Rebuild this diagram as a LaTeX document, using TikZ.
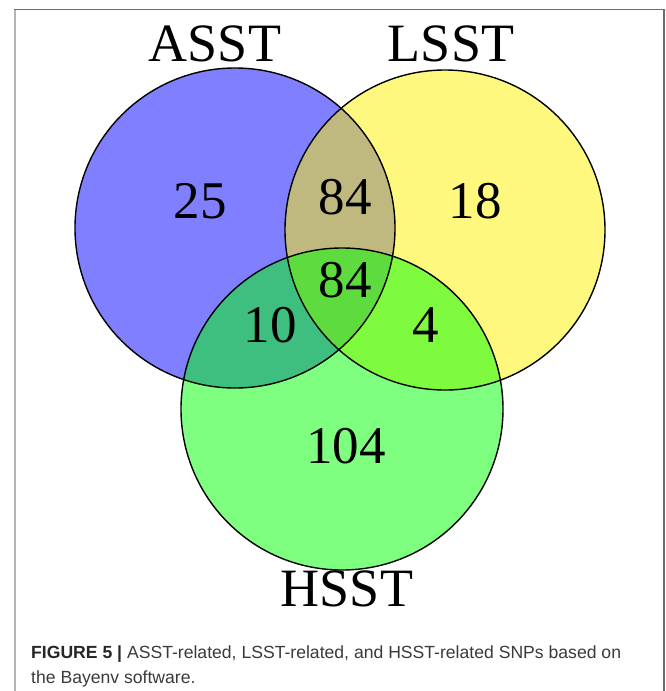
\documentclass[tikz,border=0pt]{standalone}
\usepackage{fontspec}
\setmainfont{Liberation Serif}
\newfontfamily\capfont{Liberation Sans}
\definecolor{framedark}{HTML}{6E6E6E}
\definecolor{framelight}{HTML}{B4B4B4}
\definecolor{captxt}{HTML}{3A3A3A}
\begin{document}
\begin{tikzpicture}[x=1pt,y=-1pt,
  setfill/.style={opacity=0.5},
  setline/.style={draw=black,line width=1.4pt},
  bignum/.style={inner sep=0pt,font=\fontsize{53}{60}\selectfont},
  setlabel/.style={inner sep=0pt,font=\fontsize{54}{60}\selectfont},
  captext/.style={anchor=base west,inner sep=0pt,text=captxt,font=\capfont\fontsize{17.6}{24}\selectfont}]
\useasboundingbox (0,0) rectangle (665,691);
% frame
\draw[framelight,line width=2pt] (14.5,9.5) -- (14.5,691);
\draw[framedark,line width=1.6pt] (14,9.5) -- (664,9.5) -- (664,691);
% circles
\coordinate (ca) at (235,228);
\coordinate (cl) at (445,230);
\coordinate (ch) at (342,409);
\fill[blue,setfill] (ca) circle[radius=160];
\fill[yellow,setfill] (cl) circle[radius=160];
\fill[green,setfill] (ch) circle[radius=161];
\draw[setline] (ca) circle[radius=160];
\draw[setline] (cl) circle[radius=160];
\draw[setline] (ch) circle[radius=161];
% set labels
\node[setlabel] (lA) at (215,44) {ASST};
\node[setlabel] (lL) at (451,44) {LSST};
\node[setlabel] (lH) at (347,589) {HSST};
% counts
\node[bignum] (n25) at (200,201) {25};
\node[bignum] (nAL) at (345,197) {84};
\node[bignum] (n18) at (475,201) {18};
\node[bignum] (nALH) at (345,280) {84};
\node[bignum] (n10) at (270,325) {10};
\node[bignum] (n4) at (426,325) {4};
\node[bignum] (n104) at (346,446) {104};
% caption
\node[captext] (cap1) at (31,658)
  {\textbf{\color{black!85}FIGURE 5 |} ASST-related, LSST-related, and HSST-related SNPs based on};
\node[captext] (cap2) at (31,683)
  {the Bayenv software.};
\end{tikzpicture}
\end{document}
